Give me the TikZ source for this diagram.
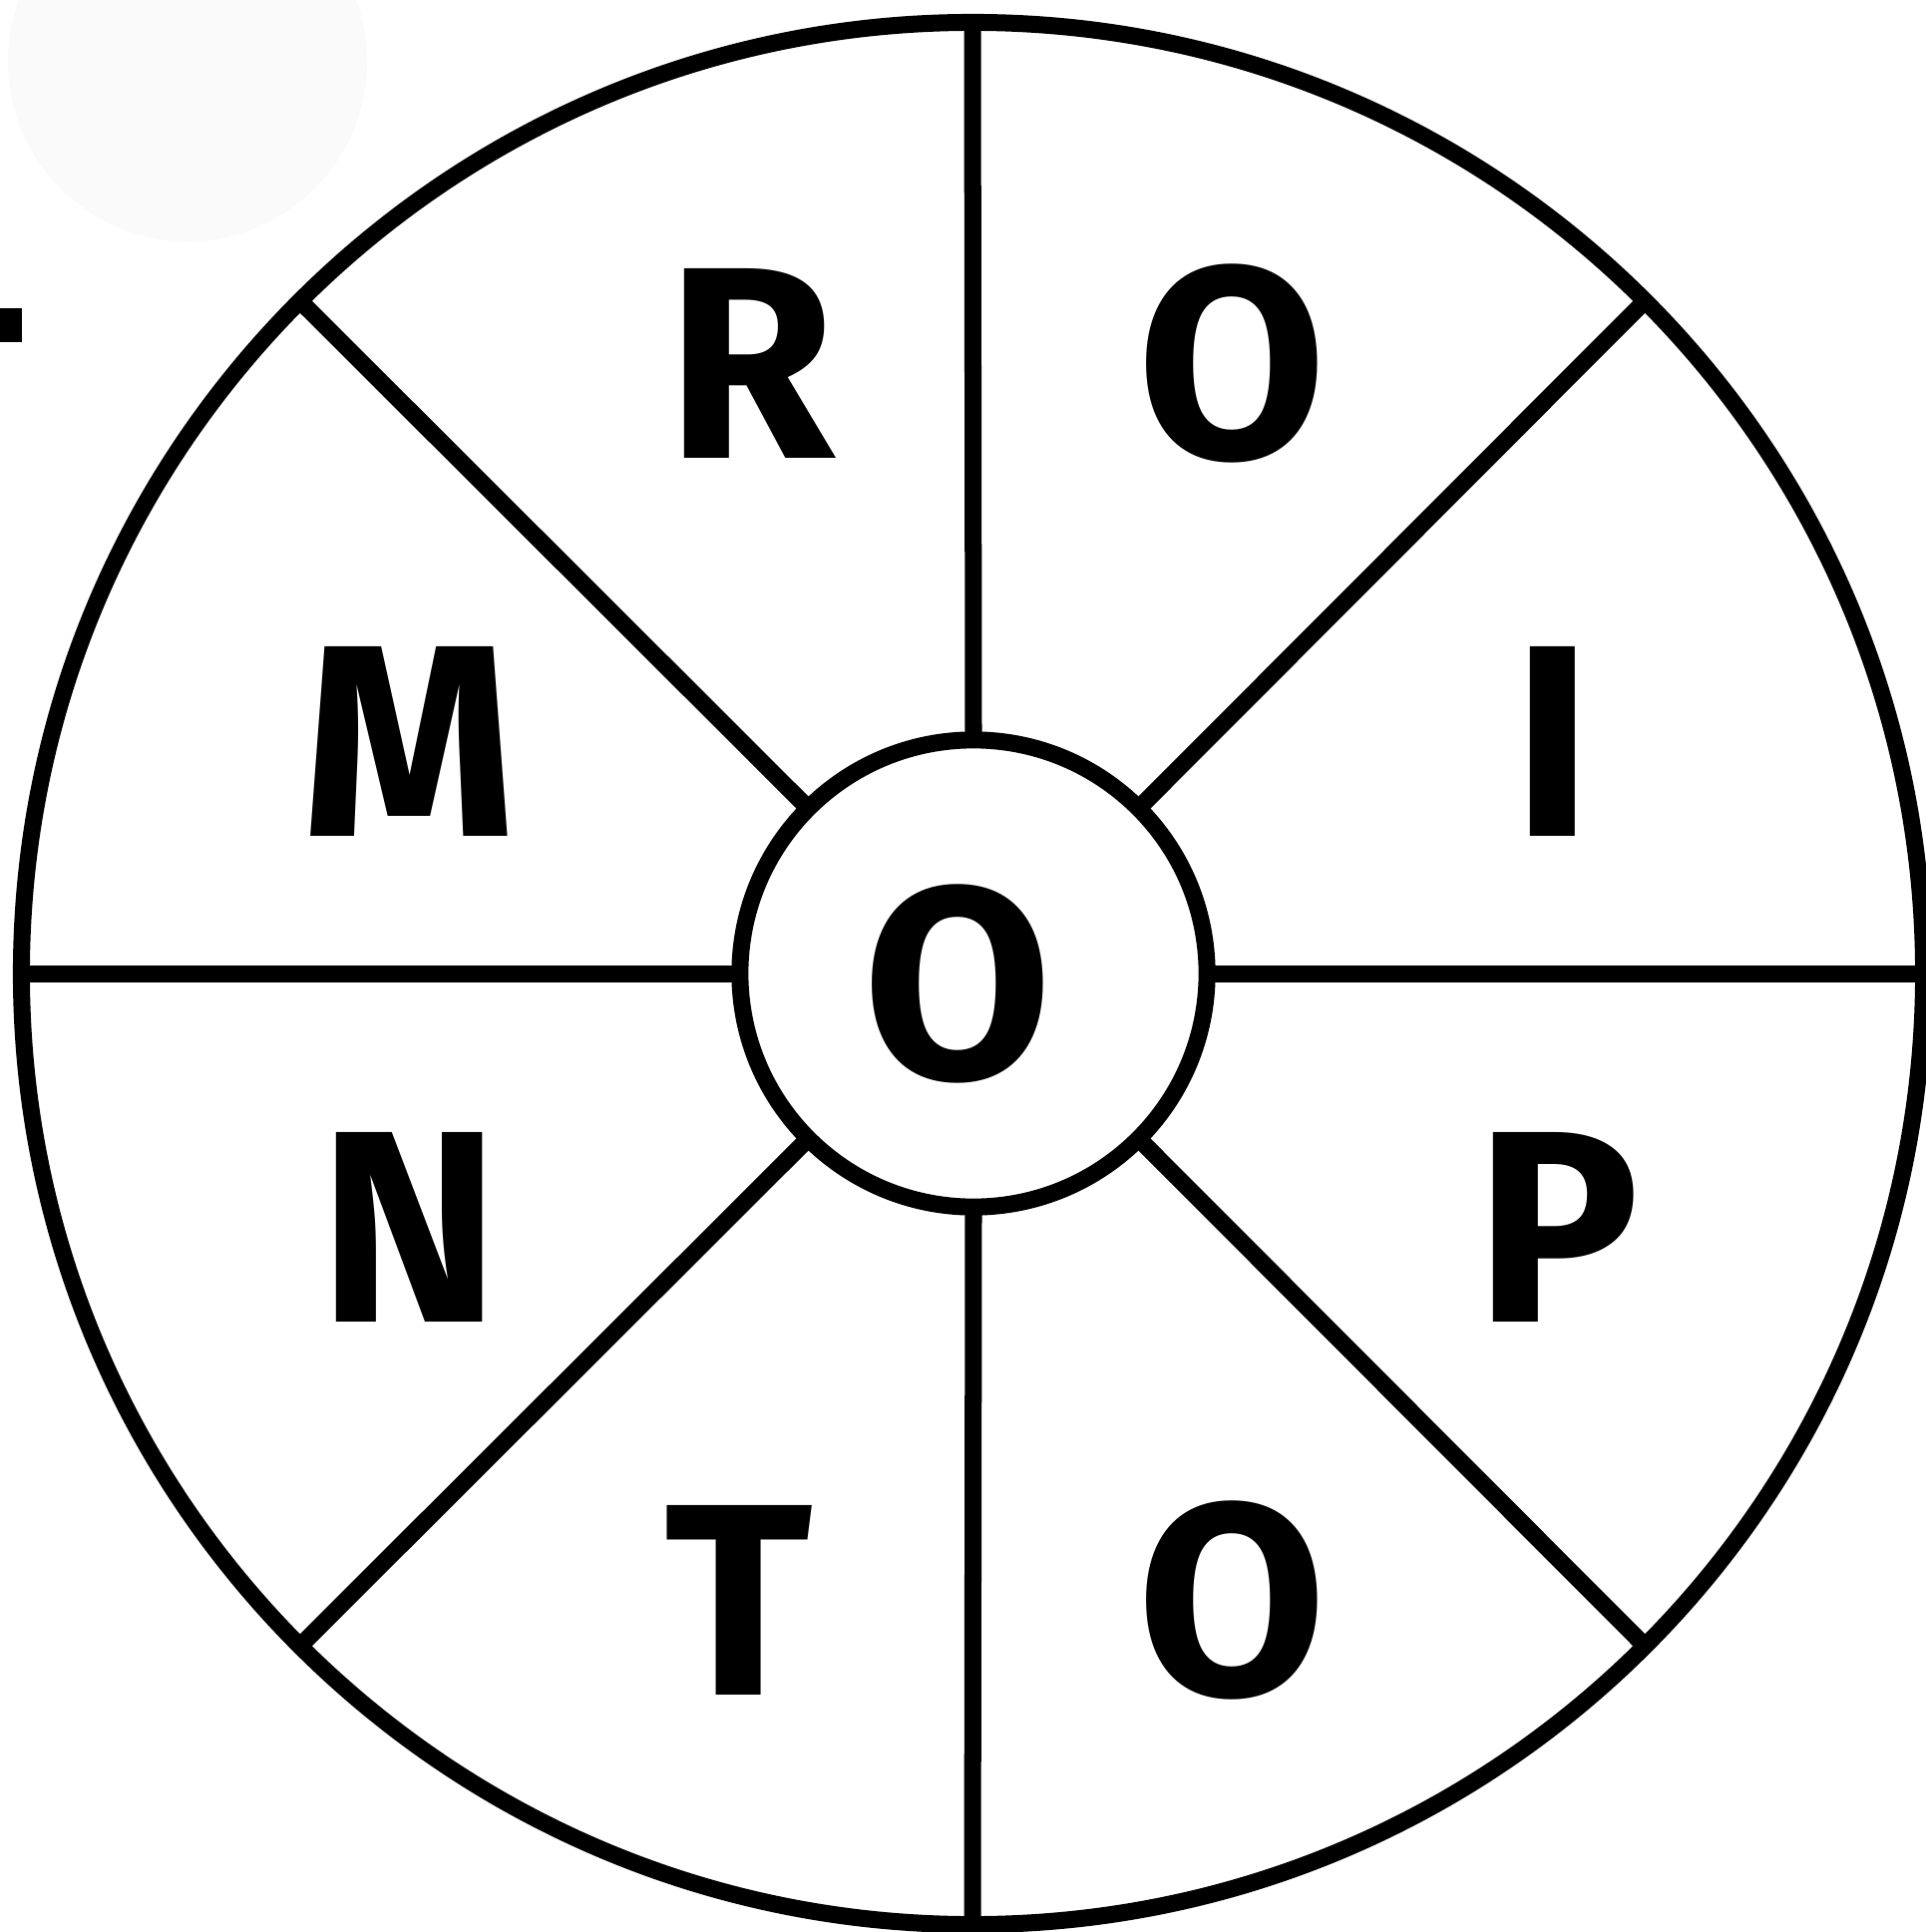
\documentclass[tikz,border=0pt]{standalone}
\usepackage{fontspec}
\setsansfont{Fira Sans}
\usetikzlibrary{positioning}
\begin{document}
\begin{tikzpicture}[x=0.01cm, y=-0.01cm,
    wheel/.style={draw, circle, line width=0.17cm, inner sep=0pt, outer sep=0pt},
    spoke/.style={line width=0.17cm},
    letter/.style={anchor=base, inner sep=0pt, font=\sffamily\bfseries\fontsize{78}{78}\selectfont}]
  \useasboundingbox (0,0) rectangle (1931,1937);
  % faint spot and mark at the left edge
  \fill[black!2] (188,62) circle [radius=1.8cm];
  \fill (0,309) rectangle (22,343);
  % the wheel
  \node[wheel, minimum size=19.06cm] (rim) at (975,976) {};
  \node[wheel, minimum size=4.68cm] (hub) at (976,976) {};
  \foreach \a in {0,45,...,315}
    \draw[spoke] (hub.\a) -- (rim.\a);
  % letters
  \node[letter] (hubO) at (960,1081) {O};
  \node[letter] (lR) at (753,460) {R};
  \node[letter] (lO1) at (1235,460) {O};
  \node[letter] (lM) at (410,838) {M};
  \node[letter] (lI) at (1557,838) {I};
  \node[letter] (lN) at (410,1325) {N};
  \node[letter] (lP) at (1562,1325) {P};
  \node[letter] (lT) at (741,1699) {T};
  \node[letter] (lO2) at (1235,1699) {O};
\end{tikzpicture}
\end{document}
